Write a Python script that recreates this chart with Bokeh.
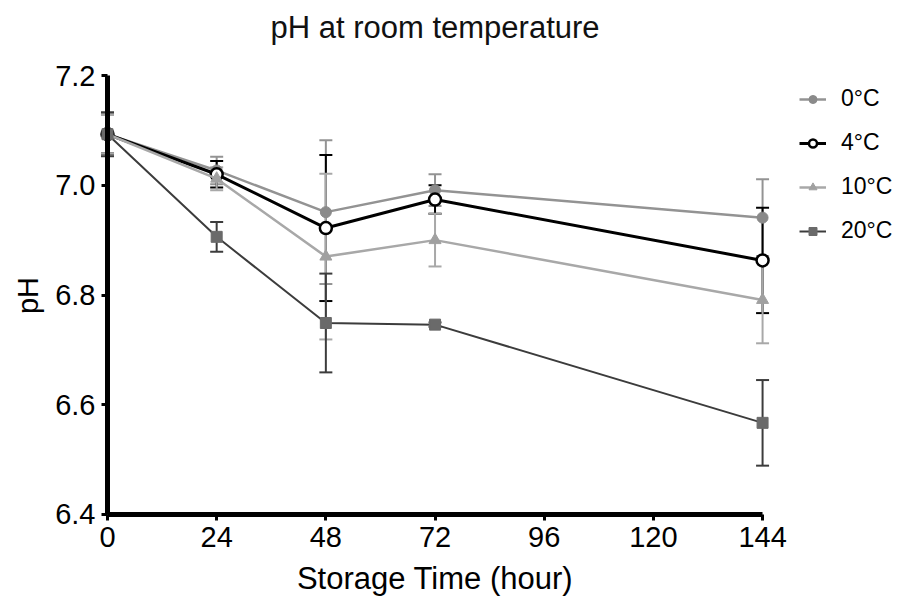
import math
from bokeh.plotting import figure
from bokeh.models import (ColumnDataSource, Whisker, TeeHead, Legend, LegendItem,
                          FixedTicker, Range1d, LinearAxis, Label)
from bokeh.embed import file_html
from bokeh.resources import INLINE

# ---- data ----
times = [0, 24, 48, 72, 144]
series = ["0°C", "4°C", "10°C", "20°C"]
ph_0C = [7.093, 7.027, 6.951, 6.991, 6.941]
err_0C = [0.037, 0.025, 0.131, 0.029, 0.070]
ph_4C = [7.093, 7.020, 6.922, 6.974, 6.863]
err_4C = [0.035, 0.024, 0.133, 0.026, 0.096]
ph_10C = [7.093, 7.012, 6.870, 6.900, 6.791]
err_10C = [0.035, 0.021, 0.151, 0.048, 0.079]
ph_20C = [7.093, 6.906, 6.749, 6.746, 6.567]
err_20C = [0.040, 0.027, 0.090, 0.004, 0.078]
x_ticks = [0, 24, 48, 72, 96, 120, 144]
y_ticks = [6.4, 6.6, 6.8, 7.0, 7.2]
y_tick_labels = ["6.4", "6.6", "6.8", "7.0", "7.2"]
title_text = "pH at room temperature"
x_title = "Storage Time (hour)"
y_title = "pH"

FONT = "Liberation Sans"

# the frame fills the whole canvas; axes sit at fixed data locations
p = figure(width=901, height=603,
           x_range=Range1d(-23.52, 174.54), y_range=Range1d(6.2378, 7.3367),
           output_backend="svg", toolbar_location=None,
           x_axis_location=None, y_axis_location=None,
           min_border_left=0, min_border_right=0,
           min_border_top=0, min_border_bottom=0)
p.grid.visible = False
p.outline_line_color = None
p.background_fill_color = "white"
p.border_fill_color = "white"

xax = LinearAxis(fixed_location=min(y_ticks), ticker=FixedTicker(ticks=x_ticks),
                 bounds=(min(x_ticks), max(x_ticks)))
yax = LinearAxis(fixed_location=min(x_ticks), ticker=FixedTicker(ticks=y_ticks),
                 bounds=(min(y_ticks), max(y_ticks)))
yax.major_label_overrides = {t: l for t, l in zip(y_ticks, y_tick_labels)}
for ax in (xax, yax):
    ax.axis_line_width = 5
    ax.axis_line_color = "black"
    ax.major_tick_line_width = 3
    ax.major_tick_line_color = "black"
    ax.major_tick_in = 0
    ax.major_tick_out = 6
    ax.minor_tick_line_color = None
    ax.major_label_text_font = FONT
    ax.major_label_text_font_size = "29px"
    ax.major_label_text_color = "black"
xax.major_label_standoff = 7
yax.major_label_standoff = 6
p.add_layout(xax, "below")
p.add_layout(yax, "left")

# titles
p.add_layout(Label(x=72, y=576, y_units="screen", text=title_text,
                   text_align="center", text_baseline="middle",
                   text_font=FONT, text_font_size="31px", text_color="#111111"))
p.add_layout(Label(x=72, y=25, y_units="screen", text=x_title,
                   text_align="center", text_baseline="middle",
                   text_font=FONT, text_font_size="31px", text_color="black"))
p.add_layout(Label(x=27, y=308, x_units="screen", y_units="screen", text=y_title,
                   angle=math.pi / 2, text_align="center", text_baseline="middle",
                   text_font=FONT, text_font_size="29px", text_color="black"))

styles = [
    # values, errors, line color, line width, marker, fill, marker line, size, marker lw
    (ph_0C, err_0C, "#939393", 2.5, "circle", "#8a8a8a", "#8a8a8a", 11, 1),
    (ph_4C, err_4C, "#000000", 3, "circle", "white", "#000000", 12, 2.5),
    (ph_10C, err_10C, "#a8a8a8", 2.5, "triangle", "#a0a0a0", "#a0a0a0", 12, 1),
    (ph_20C, err_20C, "#3c3c3c", 2, "square", "#6a6a6a", "#6a6a6a", 11, 1),
]

items = []
for name, (vals, errs, lc, lw, mk, fc, mlc, sz, mlw) in zip(series, styles):
    src = ColumnDataSource(dict(
        x=times, y=vals,
        upper=[v + e for v, e in zip(vals, errs)],
        lower=[v - e for v, e in zip(vals, errs)],
    ))
    w = Whisker(source=src, base="x", upper="upper", lower="lower",
                line_color=lc, line_width=2,
                upper_head=TeeHead(size=13, line_color=lc, line_width=2),
                lower_head=TeeHead(size=13, line_color=lc, line_width=2))
    p.add_layout(w)
    lr = p.line("x", "y", source=src, line_color=lc, line_width=lw)
    sr = p.scatter("x", "y", source=src, marker=mk, size=sz,
                   fill_color=fc, line_color=mlc, line_width=mlw)
    items.append(LegendItem(label=name, renderers=[lr, sr]))

legend = Legend(items=items, location=(799, 359),
                glyph_width=27, glyph_height=20, label_height=20,
                spacing=17, padding=0, margin=0, label_standoff=15,
                label_text_font=FONT, label_text_font_size="23px",
                label_text_color="black",
                border_line_color=None, background_fill_alpha=0)
p.add_layout(legend, "center")

open("out.html", "w").write(file_html(p, INLINE))
